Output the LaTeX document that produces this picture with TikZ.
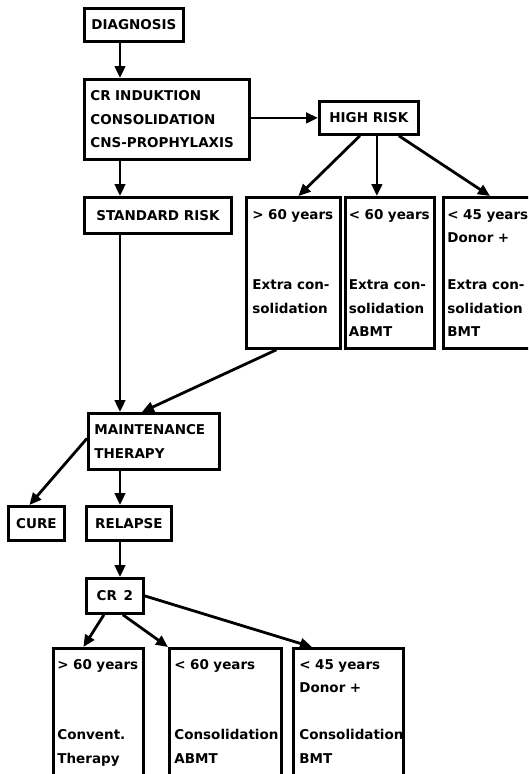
\documentclass[tikz,border=0pt]{standalone}
\usepackage{fontspec}
\setsansfont{DejaVu Sans}
\usepackage{tikz}
\usetikzlibrary{arrows.meta, calc}

\begin{document}
\begin{tikzpicture}[x=1pt, y=-1pt, >={Triangle[length=12pt, width=10.5pt]},
    box/.style={draw, line width=2.8pt, anchor=north west, inner sep=0pt,
        font=\sffamily\bfseries\fontsize{13.5}{23.5}\selectfont},
    listbox/.style={box, align=left, inner xsep=6pt},
    flow/.style={->, line width=2.8pt}]
    \useasboundingbox (0,0) rectangle (528,774);
    \clip (0,0) rectangle (528,774);
    \coordinate (spine) at (120,0);

    % Main column
    \node[box, minimum width=99pt, minimum height=33pt] (diag) at (83,7) {DIAGNOSIS};
    \node[listbox, text width=153pt, minimum height=80pt] (induct) at (83,78)
        {CR~INDUKTION\\CONSOLIDATION\\CNS-PROPHYLAXIS};
    \node[box, minimum width=147pt, minimum height=36pt] (std) at (83,196) {STANDARD RISK};
    \node[box, minimum width=99pt, minimum height=33pt] (high) at (318,100) {HIGH RISK};

    % High risk branches
    \node[listbox, text width=82pt, minimum height=151pt] (hrold) at (245,196)
        {>~60~years\\~\\~\\Extra~con-\\solidation\\~};
    \node[listbox, inner xsep=3.5pt, text width=82pt, minimum height=151pt] (hrmid) at (344,196)
        {<~60~years\\~\\~\\Extra~con-\\solidation\\ABMT};
    \node[listbox, inner xsep=4pt, text width=92pt, minimum height=151pt] (hrdonor) at (442,196)
        {<~45~years\\Donor~+\\~\\Extra~con-\\solidation\\BMT};

    % Maintenance and outcome
    \node[listbox, text width=119pt, minimum height=56pt] (maint) at (87,412)
        {MAINTENANCE\\THERAPY};
    \node[box, minimum width=56pt, minimum height=34pt] (cure) at (7,505) {CURE};
    \node[box, minimum width=85pt, minimum height=34pt] (relapse) at (85,505) {RELAPSE};
    \node[box, minimum width=57pt, minimum height=35pt] (crtwo) at (85,577) {CR\enspace2};

    % Second remission branches
    \node[listbox, inner xsep=4pt, text width=82pt, minimum height=149.5pt] (crold) at (52,647)
        {>~60~years\\~\\~\\Convent.\\Therapy\\~};
    \node[listbox, inner xsep=5pt, text width=102pt, minimum height=149.5pt] (crmid) at (168,647)
        {<~60~years\\~\\~\\Consolidation\\ABMT\\~};
    \node[listbox, text width=98pt, minimum height=149.5pt] (crdonor) at (292,647)
        {<~45~years\\Donor~+\\~\\Consolidation\\BMT\\~};

    % Connectors
    \draw[flow] (diag.south -| spine) -- (induct.north -| spine);
    \draw[flow] (induct.south -| spine) -- (std.north -| spine);
    \draw[flow] (induct.east |- high.west) -- (high.west);
    \draw[flow] ($(high.south)+(-9,0)$) -- ($(hrold.north)+(5,0)$);
    \draw[flow] ($(high.south)+(8,0)$) -- ($(hrmid.north)+(-13,0)$);
    \draw[flow] ($(high.south)+(30,0)$) -- ($(hrdonor.north west)+(48,0)$);
    \draw[flow] (std.south -| spine) -- (maint.north -| spine);
    \draw[flow] ($(hrold.south)+(-17,0)$) -- ($(maint.north)+(-12,0)$);
    \draw[flow] ($(maint.west)+(0,-3)$) -- ($(cure.north)+(-7,0)$);
    \draw[flow] (maint.south -| spine) -- (relapse.north -| spine);
    \draw[flow] (relapse.south -| spine) -- (crtwo.north -| spine);
    \draw[flow] ($(crtwo.south)+(-11,0)$) -- ($(crold.north)+(-15,0)$);
    \draw[flow] ($(crtwo.south)+(8,0)$) -- (crmid.north west);
    \draw[flow] (crtwo.east) -- ($(crdonor.north west)+(20,0)$);
\end{tikzpicture}
\end{document}
